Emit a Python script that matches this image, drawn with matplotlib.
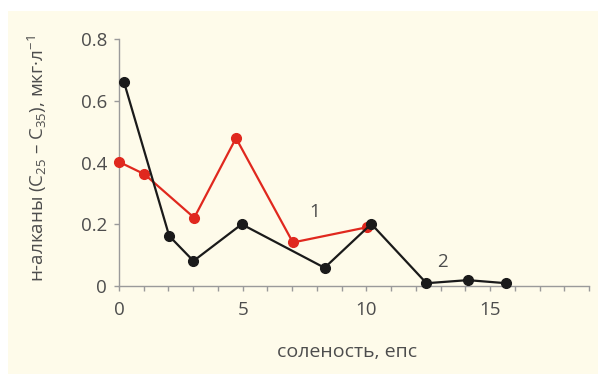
import matplotlib
matplotlib.use("Agg")
import matplotlib.pyplot as plt
from matplotlib.patches import Rectangle
from matplotlib.ticker import MultipleLocator, FixedLocator, FixedFormatter

plt.rcParams['font.family'] = ['Open Sans', 'DejaVu Sans']
plt.rcParams['mathtext.fontset'] = 'custom'
plt.rcParams['mathtext.rm'] = 'Open Sans'
plt.rcParams['mathtext.it'] = 'Open Sans:italic'
plt.rcParams['mathtext.bf'] = 'Open Sans:bold'

# series 1 (red) and series 2 (black): salinity vs n-alkane concentration
salinity_1 = [0.0, 1.03, 3.04, 4.73, 7.03, 10.01]
alkanes_1 = [0.402, 0.362, 0.221, 0.479, 0.141, 0.190]

salinity_2 = [0.2, 2.03, 3.01, 4.96, 8.31, 10.2, 12.43, 14.1, 15.66]
alkanes_2 = [0.661, 0.162, 0.081, 0.200, 0.059, 0.201, 0.009, 0.019, 0.009]

x_ticks = [0, 5, 10, 15]
x_tick_labels = ['0', '5', '10', '15']
y_ticks = [0, 0.2, 0.4, 0.6, 0.8]
y_tick_labels = ['0', '0.2', '0.4', '0.6', '0.8']

series_labels = ['1', '2']
label_pos = [(7.92, 0.24), (13.08, 0.077)]

cream = '#FEFBEA'
text_col = '#4d4d4d'
axis_col = '#9a9a9a'
red = '#E0281E'
black = '#1a1a1a'

fig = plt.figure(figsize=(6.0, 3.74), dpi=100, facecolor='white')
fig.patches.append(Rectangle((8 / 600, 0), 590 / 600, 1 - 11 / 374,
                             transform=fig.transFigure, facecolor=cream,
                             edgecolor='none', zorder=-10))

ax = fig.add_axes([119 / 600, 1 - 286 / 374, 470 / 600, 247 / 374])
ax.set_facecolor('none')

ax.plot(salinity_1, alkanes_1, color=red, lw=1.6, marker='o', ms=7,
        clip_on=False, zorder=3)
ax.plot(salinity_2, alkanes_2, color=black, lw=1.6, marker='o', ms=7,
        clip_on=False, zorder=4)

for lab, (lx, ly) in zip(series_labels, label_pos):
    ax.text(lx, ly, lab, ha='center', va='center', fontsize=13.5, color=text_col)

ax.set_xlim(0, 19)
ax.set_ylim(0, 0.8)
ax.xaxis.set_major_locator(FixedLocator(x_ticks))
ax.xaxis.set_major_formatter(FixedFormatter(x_tick_labels))
ax.xaxis.set_minor_locator(MultipleLocator(1))
ax.yaxis.set_major_locator(FixedLocator(y_ticks))
ax.yaxis.set_major_formatter(FixedFormatter(y_tick_labels))

for side in ('top', 'right'):
    ax.spines[side].set_visible(False)
for side in ('left', 'bottom'):
    ax.spines[side].set_color(axis_col)
    ax.spines[side].set_linewidth(1.0)

ax.tick_params(axis='both', which='both', color=axis_col, width=1.0,
               length=3.5, direction='out', labelcolor=text_col, labelsize=13.5)
ax.tick_params(axis='x', which='both', pad=7)
ax.tick_params(axis='y', which='both', pad=5)

ax.text(0.485, -0.267, 'соленость, епс', transform=ax.transAxes,
        ha='center', va='center', fontsize=14, color=text_col)
ax.text(-82 / 470, 0.514,
        'н-алканы (C$_{25}$ – C$_{35}$), мкг·л$^{−1}$',
        transform=ax.transAxes, rotation=90, ha='center', va='center',
        fontsize=13.5, color=text_col)

fig.savefig('out.png', dpi=100, facecolor='white')
